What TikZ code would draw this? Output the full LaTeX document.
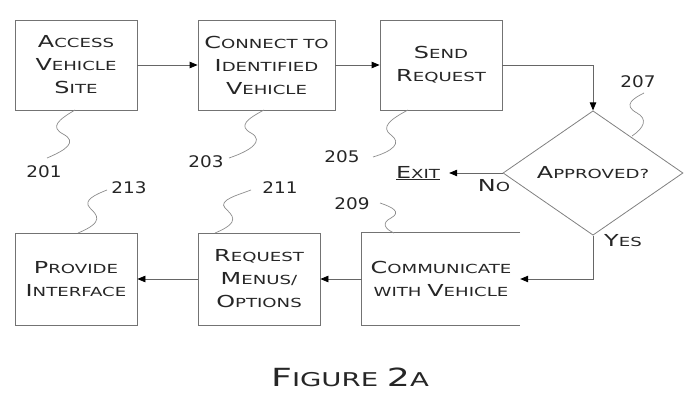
\documentclass[tikz,border=0pt]{standalone}
\usepackage{fontspec}
\setmainfont{DejaVu Sans}[FakeStretch=1.45]
\newfontfamily\numfont{DejaVu Sans}[FakeStretch=1.15]
\usetikzlibrary{arrows.meta,shapes.geometric}
\newcommand\Bg[1]{{\fontsize{16.5}{16}\selectfont #1}}
\tikzset{
  every node/.style={text=black!85},
  boxtxt/.style={align=center, font=\fontsize{12.5}{23}\selectfont, inner sep=0pt},
  box/.style={boxtxt, draw=black!55, line width=0.8pt},
  lbl/.style={font=\numfont\fontsize{16}{16}\selectfont, inner sep=0pt},
  arr/.style={draw=black!60, line width=0.8pt, -{Triangle[length=8pt,width=6.5pt,color=black]}},
  squig/.style={draw=black!45, line width=0.7pt},
}
\begin{document}
\begin{tikzpicture}[x=1pt,y=-1pt]
\useasboundingbox (0,0) rectangle (700,403);
% boxes
\node[box, minimum width=122pt, minimum height=90pt] (a) at (76,65) {\Bg{A}CCESS\\\Bg{V}EHICLE\\\Bg{S}ITE};
\node[box, minimum width=137pt, minimum height=90pt] (b) at (266.5,65) {\Bg{C}ONNECT TO\\\Bg{I}DENTIFIED\\\Bg{V}EHICLE};
\node[box, minimum width=122pt, minimum height=90pt] (c) at (441,65) {\Bg{S}END\\\Bg{R}EQUEST};
\node[diamond, draw=black!50, line width=0.8pt, minimum width=180pt, minimum height=120pt, inner sep=0pt, font=\fontsize{12.5}{23}\selectfont] (d) at (593,173) {\Bg{A}PPROVED?};
\node[boxtxt, minimum width=158pt, minimum height=92pt] (e) at (441,279) {\Bg{C}OMMUNICATE\\WITH \Bg{V}EHICLE};
\draw[draw=black!55, line width=0.8pt] (e.north east) -- (e.north west) -- (e.south west) -- (e.south east);
\node[box, minimum width=122pt, minimum height=92pt] (f) at (259,279) {\Bg{R}EQUEST\\\Bg{M}ENUS/\\\Bg{O}PTIONS};
\node[box, minimum width=122pt, minimum height=92pt] (g) at (76,279) {\Bg{P}ROVIDE\\\Bg{I}NTERFACE};
% exit and branch labels
\node[boxtxt] (x) at (418,173) {\underline{\Bg{E}XIT}};
\node[boxtxt] (no) at (494,186) {\Bg{N}O};
\node[boxtxt] (yes) at (623,241) {\Bg{Y}ES};
% connectors
\draw[arr] (a) -- (b);
\draw[arr] (b) -- (c);
\draw[arr] (c.east) -| (d.north);
\draw[arr] (d.west) -- ([xshift=9pt]x.east);
\draw[arr] (d.south) |- (e.east);
\draw[arr] (e.west) -- (f.east);
\draw[arr] (f.west) -- (g.east);
% reference numerals
\node[lbl] (n201) at (44,172) {201};
\node[lbl] (n203) at (206,162) {203};
\node[lbl] (n205) at (342,157) {205};
\node[lbl] (n207) at (638,82) {207};
\node[lbl] (n209) at (352,204) {209};
\node[lbl] (n211) at (280,188) {211};
\node[lbl] (n213) at (129,188) {213};
% squiggle leaders
\draw[squig] (75,110) .. controls (58,120) and (50,127) .. (63,134) .. controls (78,142) and (66,150) .. (47,158);
\draw[squig] (264,110) .. controls (247,119) and (238,126) .. (251,133) .. controls (265,141) and (250,151) .. (229,158);
\draw[squig] (408,110) .. controls (391,119) and (380,127) .. (391,135) .. controls (402,143) and (393,151) .. (373,157);
\draw[squig] (632,136) .. controls (644,128) and (648,119) .. (637,113) .. controls (622,105) and (634,98) .. (644,93);
\draw[squig] (380,203) .. controls (392,207) and (402,212) .. (391,218) .. controls (381,223) and (385,229) .. (394,233);
\draw[squig] (251,190) .. controls (238,195) and (218,200) .. (225,208) .. controls (232,215) and (242,222) .. (215,233);
\draw[squig] (107,190) .. controls (97,194) and (82,200) .. (90,208) .. controls (97,215) and (105,222) .. (78,233);
% caption
\node[font=\fontsize{19}{19}\selectfont, inner sep=0pt] (cap) at (350,377) {{\fontsize{25}{25}\selectfont F}IGURE {\fontsize{25}{25}\selectfont 2}A};
\end{tikzpicture}
\end{document}
